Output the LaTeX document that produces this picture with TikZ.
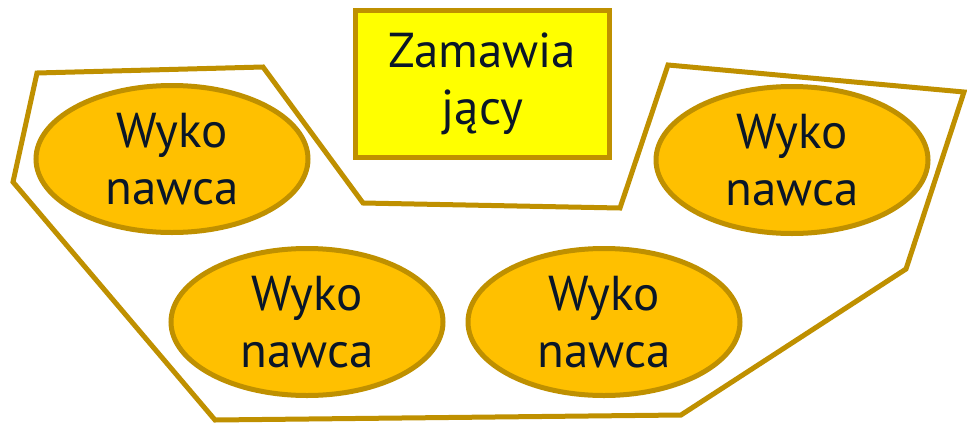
\documentclass[tikz,border=0pt]{standalone}
\usepackage{xcolor}
\usepackage{tikz}
\usepackage{fontspec}
\setmainfont{PT Sans}
\usetikzlibrary{shapes,positioning}
\definecolor{goldline}{HTML}{BF9000}
\definecolor{orangefill}{HTML}{FFC000}
\definecolor{yellowfill}{HTML}{FFFF00}
\definecolor{inktext}{HTML}{0A1628}

\begin{document}
\begin{tikzpicture}[x=1pt, y=-1pt,
    wykon/.style={draw=goldline, line width=5pt, fill=orangefill, ellipse,
        minimum width=272pt, minimum height=147pt, inner sep=0pt,
        align=center, text=inktext, font=\fontsize{49}{57}\selectfont},
    zambox/.style={draw=goldline, line width=5pt, fill=yellowfill, rectangle,
        minimum width=254pt, minimum height=147pt, inner sep=0pt,
        align=center, text=inktext, font=\fontsize{49}{57}\selectfont}]
    \useasboundingbox (0,0) rectangle (967,426);
    % Outline round the contractors
    \draw[goldline, line width=5pt, line join=miter]
        (37,73) -- (263,67) -- (363,203) -- (620,208) -- (668,65) -- (964,92)
        -- (906,269) -- (681,415) -- (215,420) -- (13,182) -- cycle;
    % Client
    \node[zambox] (zam) at (482.5,84) {Zamawia\\jący};
    % Contractors
    \node[wykon] (wyk1) at (172,159) {Wyko\\nawca};
    \node[wykon] (wyk2) at (307,322) {Wyko\\nawca};
    \node[wykon] (wyk3) at (604,322) {Wyko\\nawca};
    \node[wykon] (wyk4) at (792,160) {Wyko\\nawca};
\end{tikzpicture}
\end{document}
